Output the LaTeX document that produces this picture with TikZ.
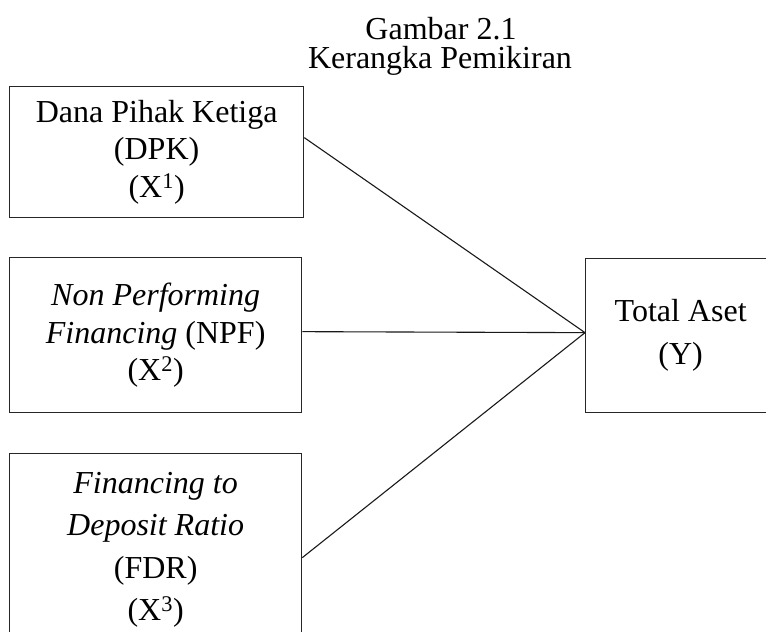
\documentclass[tikz,border=0pt]{standalone}
\usepackage{fontspec}
\setmainfont{Liberation Serif}
\begin{document}
\begin{tikzpicture}[x=1pt,y=-1pt,
  box/.style={draw=black!85, line width=1.3pt, rectangle, inner sep=0pt, anchor=north west, align=center},
  link/.style={draw=black!90, line width=1.1pt},
  ttl/.style={anchor=base, inner sep=0pt, font=\fontsize{32}{36}\selectfont}]
\useasboundingbox (0,0) rectangle (766,632);
\node[ttl] (t1) at (441,39) {Gambar 2.1};
\node[ttl] (t2) at (440,68) {Kerangka Pemikiran};
\node[box, minimum width=294pt, minimum height=131pt, font=\fontsize{32}{37.5}\selectfont] (b1) at (9,86)
  {Dana Pihak Ketiga\\(DPK)\\(X\textsuperscript{1})};
\node[box, minimum width=292pt, minimum height=155pt, font=\fontsize{32}{37.5}\selectfont] (b2) at (9,257)
  {\textit{Non Performing}\\\textit{Financing} (NPF)\\(X\textsuperscript{2})};
\node[box, minimum width=292pt, minimum height=192pt, font=\fontsize{32}{42.5}\selectfont] (b3) at (9,453)
  {\textit{Financing to}\\\textit{Deposit Ratio}\\(FDR)\\(X\textsuperscript{3})};
\node[box, minimum width=190pt, minimum height=154pt, font=\fontsize{32}{43}\selectfont] (by) at (585,258)
  {Total Aset\\(Y)};
\coordinate (c) at ([yshift=3pt]by.west);
\draw[link] ([yshift=14.5pt]b1.east) -- (c);
\draw[link] ([yshift=3.5pt]b2.east) -- (c);
\draw[link] ([yshift=-8pt]b3.east) -- (c);
\end{tikzpicture}
\end{document}
